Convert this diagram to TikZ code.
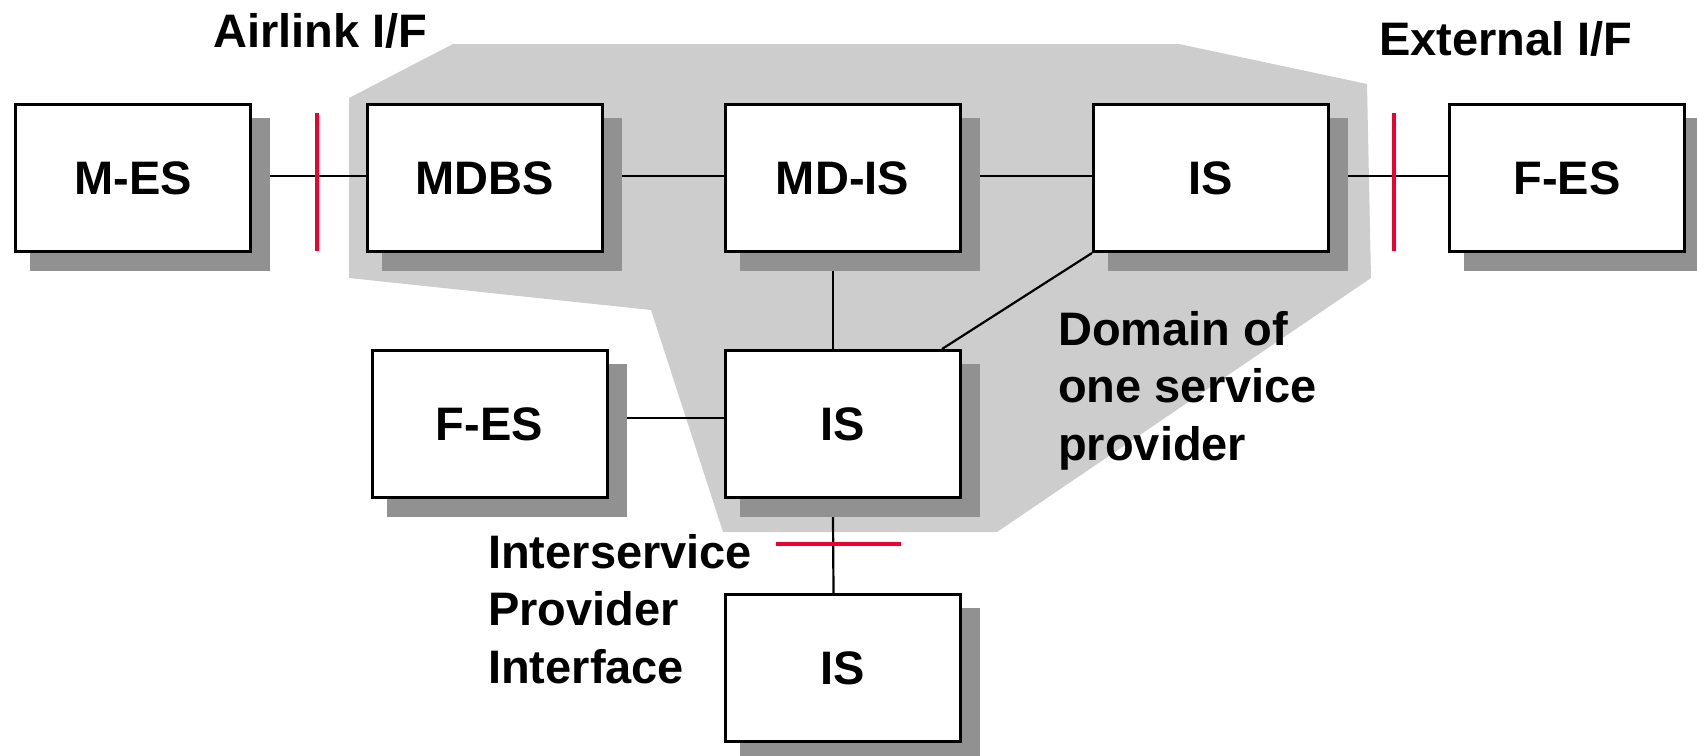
\documentclass[tikz,border=0pt]{standalone}
\usepackage{fontspec}
\setmainfont{Liberation Sans}
\usetikzlibrary{calc}
\definecolor{domaingray}{RGB}{205,205,205}
\definecolor{shadowgray}{RGB}{145,145,145}
\definecolor{ifred}{RGB}{238,0,48}
\pgfdeclarelayer{back}
\pgfdeclarelayer{shadowlayer}
\pgfsetlayers{back,shadowlayer,main}
\tikzset{
  netbox/.style={draw=black, line width=3pt, fill=white, minimum width=235pt,
    minimum height=147pt, inner sep=0pt, font=\bfseries\fontsize{47}{57.5}\selectfont},
  lbl/.style={inner sep=0pt, font=\bfseries\fontsize{47}{57.5}\selectfont},
  link/.style={draw=black, line width=2.2pt},
  ifmark/.style={draw=ifred, line width=3.5pt},
  domainfill/.style={fill=domaingray, draw=none},
  boxshadow/.style={fill=shadowgray, draw=none}
}
\newcommand\netnode[4]{%
  \node[netbox] (#1) at (#2,#3) {#4};
  \begin{pgfonlayer}{shadowlayer}
    \fill[boxshadow] ([shift={(16,15)}]#1.north west) rectangle ([shift={(18,18)}]#1.south east);
  \end{pgfonlayer}}
\begin{document}
\begin{tikzpicture}[x=1pt,y=-1pt]
\useasboundingbox (0,0) rectangle (1697,755);
% domain of one service provider
\begin{pgfonlayer}{back}
  \fill[domainfill] (453,44) -- (1179,44) -- (1367,84) -- (1371,278) -- (997,532)
    -- (723,532) -- (651,310) -- (349,278) -- (349,98) -- cycle;
\end{pgfonlayer}
% boxes
\netnode{mes}{133}{178}{M-ES}
\netnode{mdbs}{485}{178}{MDBS}
\netnode{mdis}{842.5}{178}{MD-IS}
\netnode{ist}{1211}{178}{IS}
\netnode{fesr}{1567}{178}{F-ES}
\netnode{fesl}{489.5}{424}{F-ES}
\netnode{ism}{842.5}{424}{IS}
\netnode{isb}{843}{668}{IS}
% connectors
\draw[link] ([shift={(18,-2)}]mes.east) -- ([shift={(0,-2)}]mdbs.west);
\draw[link] ([shift={(18,-2)}]mdbs.east) -- ([shift={(0,-2)}]mdis.west);
\draw[link] ([shift={(18,-2)}]mdis.east) -- ([shift={(0,-2)}]ist.west);
\draw[link] ([shift={(18,-2)}]ist.east) -- ([shift={(0,-2)}]fesr.west);
\draw[link] ([shift={(-9.5,18)}]mdis.south) -- ([shift={(-9.5,0)}]ism.north);
\draw[link] (ist.south west) -- ([shift={(99.5,0)}]ism.north);
\draw[link] ([shift={(18,-6)}]fesl.east) -- ([shift={(0,-6)}]ism.west);
\draw[link] ([shift={(-9.5,18)}]ism.south) -- ([shift={(-9.5,0)}]isb.north);
% interface marks
\coordinate (air1) at (317,113);
\coordinate (air2) at (317,251);
\coordinate (ext1) at (1394,113);
\coordinate (ext2) at (1394,251);
\coordinate (isp1) at (776,544);
\coordinate (isp2) at (901,544);
\draw[ifmark] (air1) -- (air2);
\draw[ifmark] (ext1) -- (ext2);
\draw[ifmark] (isp1) -- (isp2);
% labels
\node[lbl, anchor=base] (airlbl) at (320.5,47) {Airlink I/F};
\node[lbl, anchor=base] (extlbl) at (1506,55) {External I/F};
\node[lbl, anchor=base west, align=left] (domlbl) at (1058,460) {Domain of\\one service\\provider};
\node[lbl, anchor=base west, align=left] (isplbl) at (488,683) {Interservice\\Provider\\Interface};
\end{tikzpicture}
\end{document}
